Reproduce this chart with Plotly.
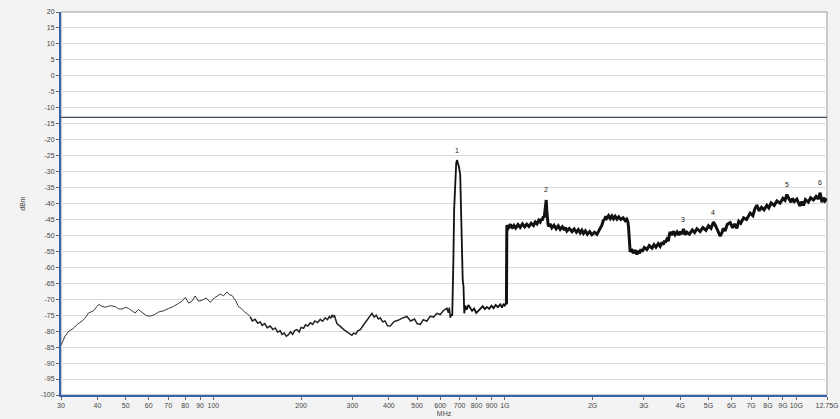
import math
import plotly.graph_objects as go

# ---------------- data ----------------
# Frequency in MHz, level in dBm
low_freq = [30, 31.0, 31.9, 33.0, 34.2, 35.4, 36.2, 37.3, 38.8, 40.4, 41.5, 42.6, 44.3, 46.1, 47.2,
            48.6, 50.0, 51.2, 52.5, 53.9, 55.3, 56.9, 58.8, 60.7, 62.8, 64.9, 67.5, 70.2, 72.8, 75.9,
            78.0, 80.1, 82.2, 84.4, 86.6, 89.0, 91.4, 94.5, 97.6, 101, 103, 105.6, 108.5, 111.3, 113.5,
            115.8, 119, 122, 125, 128, 131, 133.8]
low_level = [-84.4, -81.5, -80.0, -79.2, -77.8, -76.9, -76.0, -74.3, -73.6, -71.6, -72.2, -72.5, -72.0, -72.3, -73.0,
             -73.1, -72.5, -72.9, -73.6, -74.3, -73.2, -74.0, -75.1, -75.3, -74.8, -74.0, -73.6, -72.9, -72.3, -71.3,
             -70.6, -69.4, -71.2, -70.6, -69.0, -70.6, -70.3, -69.6, -71.0, -69.5, -68.9, -68.4, -68.9, -67.7, -68.6,
             -68.8, -70.3, -72.3, -73.0, -74.0, -74.6, -75.5]

mid_freq = [133.8, 136, 139, 142, 144.8, 147, 150, 153, 156.7, 160, 163, 166, 169.6, 172, 175,
            178, 181, 184, 187, 190, 193.5, 197, 200, 204, 207, 211, 215, 219, 223, 228,
            232.6, 237, 242, 246, 250, 253, 255.2, 258, 260, 263, 265.4, 270, 275, 281, 287.3,
            293, 298.8, 303, 308, 313, 319.2, 326, 333, 341, 350, 356, 362, 368, 373.8, 381,
            388, 396, 404.5, 417, 430, 445, 461.4, 475, 490, 500, 512.7, 525, 540, 555, 569.3,
            585, 600, 615, 633, 640, 645, 649.8, 655, 660]
mid_level = [-75.5, -76.8, -76.3, -77.5, -77.1, -78.2, -77.6, -78.9, -78.4, -79.5, -79.0, -80.3, -79.9, -81.0, -80.6,
             -81.6, -81.1, -80.2, -81.0, -79.8, -79.5, -80.3, -78.8, -79.1, -78.0, -78.4, -77.4, -77.9, -76.8, -77.3,
             -76.3, -76.9, -75.8, -76.4, -75.4, -76.0, -74.9, -75.6, -75.0, -76.5, -77.6, -78.2, -78.9, -79.6, -80.2,
             -80.9, -81.3, -80.6, -80.9, -79.9, -79.5, -78.3, -77.2, -75.8, -74.4, -75.6, -75.0, -76.2, -75.8, -77.1,
             -76.8, -78.3, -78.4, -77.0, -76.6, -75.9, -75.4, -76.8, -76.2, -77.6, -77.9, -76.4, -76.9, -75.3, -75.6,
             -74.4, -74.8, -73.6, -72.8, -74.2, -72.6, -75.8, -74.9, -75.2]

spike_freq = [660, 663, 666, 670, 676, 681, 685, 690, 696, 703, 708, 712, 717, 721.6, 725.7,
              732, 740, 750, 760.9, 772, 785, 798, 812.5, 826, 840, 854, 868, 884, 900, 915,
              930, 947, 964, 978, 990, 1000, 1011, 1013]
spike_level = [-75.2, -70, -58, -42, -30, -27.5, -26.4, -27.2, -28.5, -31.0, -45, -60.9, -64, -66.0, -74.4,
               -72.0, -73.3, -71.8, -72.6, -73.6, -72.9, -74.3, -73.6, -73.0, -72.2, -73.1, -72.4, -73.0, -72.0, -72.8,
               -71.8, -72.5, -71.6, -72.6, -71.4, -72.0, -71.2, -71.6]

high_freq = [1013, 1016, 1029, 1045, 1060, 1075, 1090, 1110, 1129, 1150, 1170, 1190, 1210, 1232, 1254,
             1272, 1290, 1307, 1323, 1335, 1345, 1356, 1365, 1373, 1380, 1387, 1393, 1400, 1406, 1412,
             1430, 1450, 1475, 1500, 1525, 1549, 1575, 1600, 1615, 1633, 1665, 1700, 1730, 1760, 1787,
             1814, 1838, 1862, 1890, 1920, 1955, 1990, 2030, 2070, 2090, 2110, 2130, 2153, 2175, 2200,
             2220, 2240, 2270, 2300, 2330, 2360, 2390, 2425, 2460, 2500, 2545, 2589, 2620, 2645, 2657,
             2670, 2680, 2692, 2725, 2763, 2800, 2839, 2870, 2900, 2930, 2960, 3010, 3072, 3130, 3200,
             3250, 3300, 3360, 3412, 3460, 3500, 3530, 3549, 3600, 3642, 3665, 3692, 3740, 3788, 3840,
             3900, 3950, 4000, 4050, 4102, 4160, 4213, 4300, 4400, 4480, 4560, 4680, 4780, 4900, 5000,
             5100, 5200, 5300, 5380, 5482, 5556, 5620, 5700, 5800, 5934, 6050, 6150, 6253, 6350, 6450,
             6600, 6750, 6949, 7100, 7200, 7327, 7450, 7600, 7750, 7925, 8050, 8200, 8400, 8581, 8800,
             9000, 9150, 9284, 9450, 9600, 9700, 9850, 10046, 10200, 10300, 10450, 10585, 10750, 11000, 11200,
             11456, 11700, 11900, 12079, 12250, 12400, 12550, 12750]
high_level = [-71.6, -46.8, -47.6, -46.5, -47.8, -46.9, -47.7, -46.6, -47.5, -46.4, -47.3, -46.5, -47.2, -46.2, -46.9,
              -45.8, -46.4, -45.3, -45.8, -44.8, -45.3, -44.0, -44.4, -42.5, -41.0, -38.9, -42.0, -45.5, -46.3, -47.2,
              -46.4, -47.6, -46.8, -47.9, -47.0, -48.1, -47.3, -48.3, -47.5, -48.6, -47.8, -48.8, -48.0, -49.0, -48.2,
              -49.2, -48.4, -49.4, -48.6, -49.6, -48.8, -49.8, -49.0, -49.7, -48.9, -48.6, -47.4, -46.8, -45.4, -45.0,
              -44.0, -44.6, -43.8, -44.7, -43.9, -44.8, -44.0, -44.9, -44.2, -45.0, -44.5, -45.4, -44.9, -45.8, -47.3,
              -52.0, -54.2, -55.2, -54.3, -55.6, -54.6, -56.0, -54.8, -55.6, -54.3, -55.1, -53.8, -54.4, -53.2, -54.0,
              -52.9, -53.7, -52.6, -53.4, -52.2, -52.9, -51.6, -52.2, -51.2, -51.8, -50.0, -48.9, -49.9, -48.7, -49.8,
              -48.9, -49.9, -48.8, -49.6, -48.0, -49.8, -49.0, -49.6, -48.3, -49.1, -47.9, -48.8, -47.5, -48.4, -47.0,
              -47.8, -45.8, -47.2, -48.5, -50.2, -49.2, -47.8, -48.6, -46.5, -46.0, -47.6, -46.4, -47.8, -45.6, -46.2,
              -44.5, -45.0, -43.0, -43.8, -41.8, -40.5, -42.3, -41.2, -42.0, -40.6, -41.4, -39.8, -40.6, -39.2, -39.9,
              -38.4, -39.0, -37.2, -38.6, -39.6, -38.4, -39.4, -38.6, -40.0, -40.8, -39.4, -40.6, -38.8, -39.6, -38.2,
              -38.9, -37.8, -38.6, -36.6, -39.6, -38.2, -39.2, -38.4]

marker_labels = ["1", "2", "3", "4", "5", "6"]
marker_freq = [685, 1387, 4102, 5200, 9284, 12079]
marker_level = [-26.4, -38.9, -48.0, -45.8, -37.2, -36.6]

limit_dbm = -13

x_tick_vals = [30, 40, 50, 60, 70, 80, 90, 100, 200, 300, 400, 500, 600, 700, 800, 900,
               1000, 2000, 3000, 4000, 5000, 6000, 7000, 8000, 9000, 10000, 12750]
x_tick_text = ["30", "40", "50", "60", "70", "80", "90", "100", "200", "300", "400", "500", "600", "700",
               "800", "900", "1G", "2G", "3G", "4G", "5G", "6G", "7G", "8G", "9G", "10G", "12.75G"]
y_tick_vals = list(range(-100, 25, 5))
y_tick_text = [str(v) for v in y_tick_vals]

x_min, x_max = 30, 12750
y_min, y_max = -100, 20

# ---------------- figure ----------------
for a, b in [(low_freq, low_level), (mid_freq, mid_level), (spike_freq, spike_level), (high_freq, high_level)]:
    assert len(a) == len(b), (len(a), len(b))

font_family = "Liberation Sans, Arial, sans-serif"
axis_blue = "#3565a8"

fig = go.Figure()
segments = [
    (low_freq, low_level, 1.0, "#3a3a3a"),
    (mid_freq, mid_level, 1.5, "#222222"),
    (spike_freq, spike_level, 1.8, "#111111"),
    (high_freq, high_level, 3.0, "#111111"),
]
for fx, ly, w, c in segments:
    fig.add_trace(go.Scatter(x=fx, y=ly, mode="lines", line=dict(color=c, width=w),
                             showlegend=False, hoverinfo="skip"))

for lab, fx, ly in zip(marker_labels, marker_freq, marker_level):
    fig.add_annotation(x=math.log10(fx), y=ly, text=lab, showarrow=False, yshift=10,
                       font=dict(size=7, color="#222222", family=font_family))

fig.add_shape(type="line", xref="paper", x0=0, x1=1, yref="y", y0=limit_dbm, y1=limit_dbm,
              line=dict(color="#3f4c60", width=1.2))
fig.add_shape(type="rect", xref="paper", yref="paper", x0=0, x1=1, y0=0, y1=1,
              line=dict(color="#9a9a9a", width=1), layer="below")

fig.update_layout(
    width=840, height=419,
    margin=dict(l=61, r=13, t=12, b=24, autoexpand=False),
    paper_bgcolor="#f3f3f3",
    plot_bgcolor="#ffffff",
    font=dict(family=font_family, size=7, color="#444"),
    xaxis=dict(type="log", range=[math.log10(x_min), math.log10(x_max)],
               tickvals=x_tick_vals, ticktext=x_tick_text, tickangle=0, automargin=False,
               showgrid=False, zeroline=False,
               showline=True, linecolor=axis_blue, linewidth=2,
               ticks="outside", ticklen=3, tickcolor="#666",
               tickfont=dict(size=7, color="#444"),
               title=dict(text="MHz", font=dict(size=7, color="#444"), standoff=3)),
    yaxis=dict(range=[y_min, y_max], tickvals=y_tick_vals, ticktext=y_tick_text, automargin=False,
               showgrid=True, gridcolor="#dadada", gridwidth=1, zeroline=False,
               showline=True, linecolor=axis_blue, linewidth=2,
               ticks="outside", ticklen=3, tickcolor="#666",
               tickfont=dict(size=7, color="#444"),
               title=dict(text="dBm", font=dict(size=7, color="#444"), standoff=14)),
)

fig.write_html("out.html", config={"displayModeBar": False},
               post_script="document.body.style.margin='0';document.body.style.padding='0';")
